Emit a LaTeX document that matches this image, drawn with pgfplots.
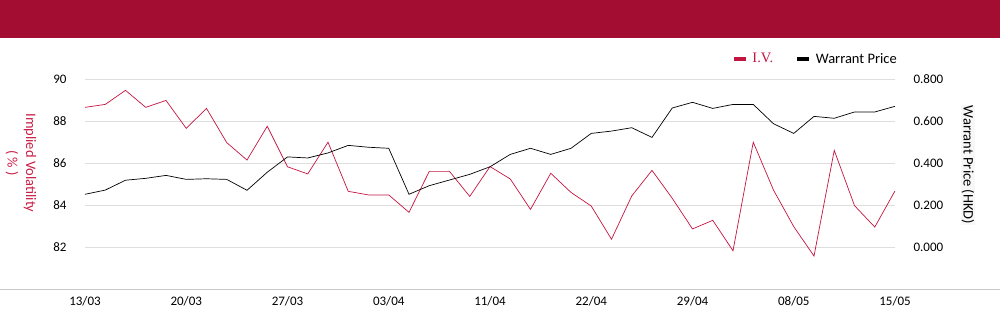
\documentclass[border=0pt]{standalone}
\usepackage{pgfplots}
\pgfplotsset{compat=1.18}
\usepackage{fontspec}
\setmainfont{Carlito}
\newfontfamily\ivfont{Liberation Serif}
\definecolor{hdr}{RGB}{164,13,50}
\definecolor{ivred}{RGB}{196,20,64}
\definecolor{lblred}{RGB}{200,30,70}
\definecolor{gridc}{RGB}{222,222,222}
\definecolor{basec}{RGB}{200,200,200}
\begin{document}
\fontsize{13}{15}\selectfont
\begin{tikzpicture}[x=1pt,y=1pt]
\useasboundingbox (-85,-35) rectangle (915,289);
\fill[hdr] (-85,251) rectangle (915,289);
\draw[basec, line width=1pt] (-85,0) -- (915,0);
\begin{axis}[
  at={(0,0)}, anchor=south west,
  scale only axis, width=810pt, height=210pt,
  xmin=0, xmax=40, ymin=80, ymax=90,
  axis line style={draw=none},
  tick style={draw=none},
  xtick={0,5,...,40},
  xticklabels={13/03,20/03,27/03,03/04,11/04,22/04,29/04,08/05,15/05},
  ytick={82,84,86,88,90},
  /pgf/number format/assume math mode=true,
  ymajorgrids, major grid style={gridc, line width=0.8pt},
  ticklabel style={font=\fontsize{13}{15}\selectfont},
  yticklabel style={xshift=-14pt},
  xticklabel style={yshift=-3pt},
  clip=false,
]
\addplot[color=ivred, line width=0.7pt] coordinates {
(0,88.65)(1,88.79)(2,89.46)(3,88.65)(4,88.98)(5,87.65)(6,88.60)(7,86.97)(8,86.14)(9,87.75)
(10,85.82)(11,85.48)(12,86.99)(13,84.65)(14,84.48)(15,84.48)(16,83.65)(17,85.60)(18,85.60)(19,84.41)
(20,85.83)(21,85.24)(22,83.79)(23,85.51)(24,84.60)(25,83.95)(26,82.37)(27,84.43)(28,85.65)(29,84.32)
(30,82.86)(31,83.27)(32,81.82)(33,86.99)(34,84.71)(35,82.97)(36,81.57)(37,86.60)(38,83.97)(39,82.95)
(40,84.67)};
\end{axis}
\begin{axis}[
  at={(0,0)}, anchor=south west,
  scale only axis, width=810pt, height=210pt,
  xmin=0, xmax=40, ymin=-0.2, ymax=0.8,
  axis y line*=right, axis x line=none,
  axis line style={draw=none},
  tick style={draw=none},
  ytick={0,0.2,0.4,0.6,0.8},
  yticklabel style={/pgf/number format/.cd, fixed, fixed zerofill, precision=3, /tikz/.cd, xshift=14pt},
  /pgf/number format/assume math mode=true,
  ticklabel style={font=\fontsize{13}{15}\selectfont},
  legend style={at={(1,1.095)}, anchor=east, xshift=4pt, draw=none, fill=none,
    font=\fontsize{14.5}{16}\selectfont, legend columns=2,
    /tikz/every even column/.append style={column sep=22pt},
    legend cell align=left, inner sep=0pt},
  legend image code/.code={\fill[#1] (0pt,-1.5pt) rectangle (11pt,1.5pt);},
  clip=false,
]
\addlegendimage{color=ivred}
\addlegendentry{\hspace*{5pt}\textcolor{ivred}{\ivfont I.V.}}
\addplot[color=black, line width=0.7pt] coordinates {
(0,0.251)(1,0.271)(2,0.318)(3,0.327)(4,0.341)(5,0.322)(6,0.325)(7,0.322)(8,0.270)(9,0.356)
(10,0.429)(11,0.424)(12,0.448)(13,0.484)(14,0.475)(15,0.470)(16,0.251)(17,0.292)(18,0.319)(19,0.346)
(20,0.382)(21,0.441)(22,0.470)(23,0.441)(24,0.470)(25,0.541)(26,0.552)(27,0.568)(28,0.522)(29,0.662)
(30,0.689)(31,0.660)(32,0.679)(33,0.679)(34,0.587)(35,0.541)(36,0.622)(37,0.613)(38,0.643)(39,0.643)
(40,0.670)};
\addlegendentry{\hspace*{5pt}Warrant Price}
\end{axis}
\node[rotate=-90, text=lblred, font=\fontsize{14.5}{16}\selectfont] at (-55,126) {Implied Volatility};
\node[rotate=-90, text=lblred, font=\fontsize{14.5}{16}\selectfont] at (-73,126) {( \% )};
\node[rotate=-90, fill=gray!6, inner sep=1pt, font=\fontsize{14.5}{16}\selectfont] at (883,124) {Warrant Price (HKD)};
\end{tikzpicture}
\end{document}
